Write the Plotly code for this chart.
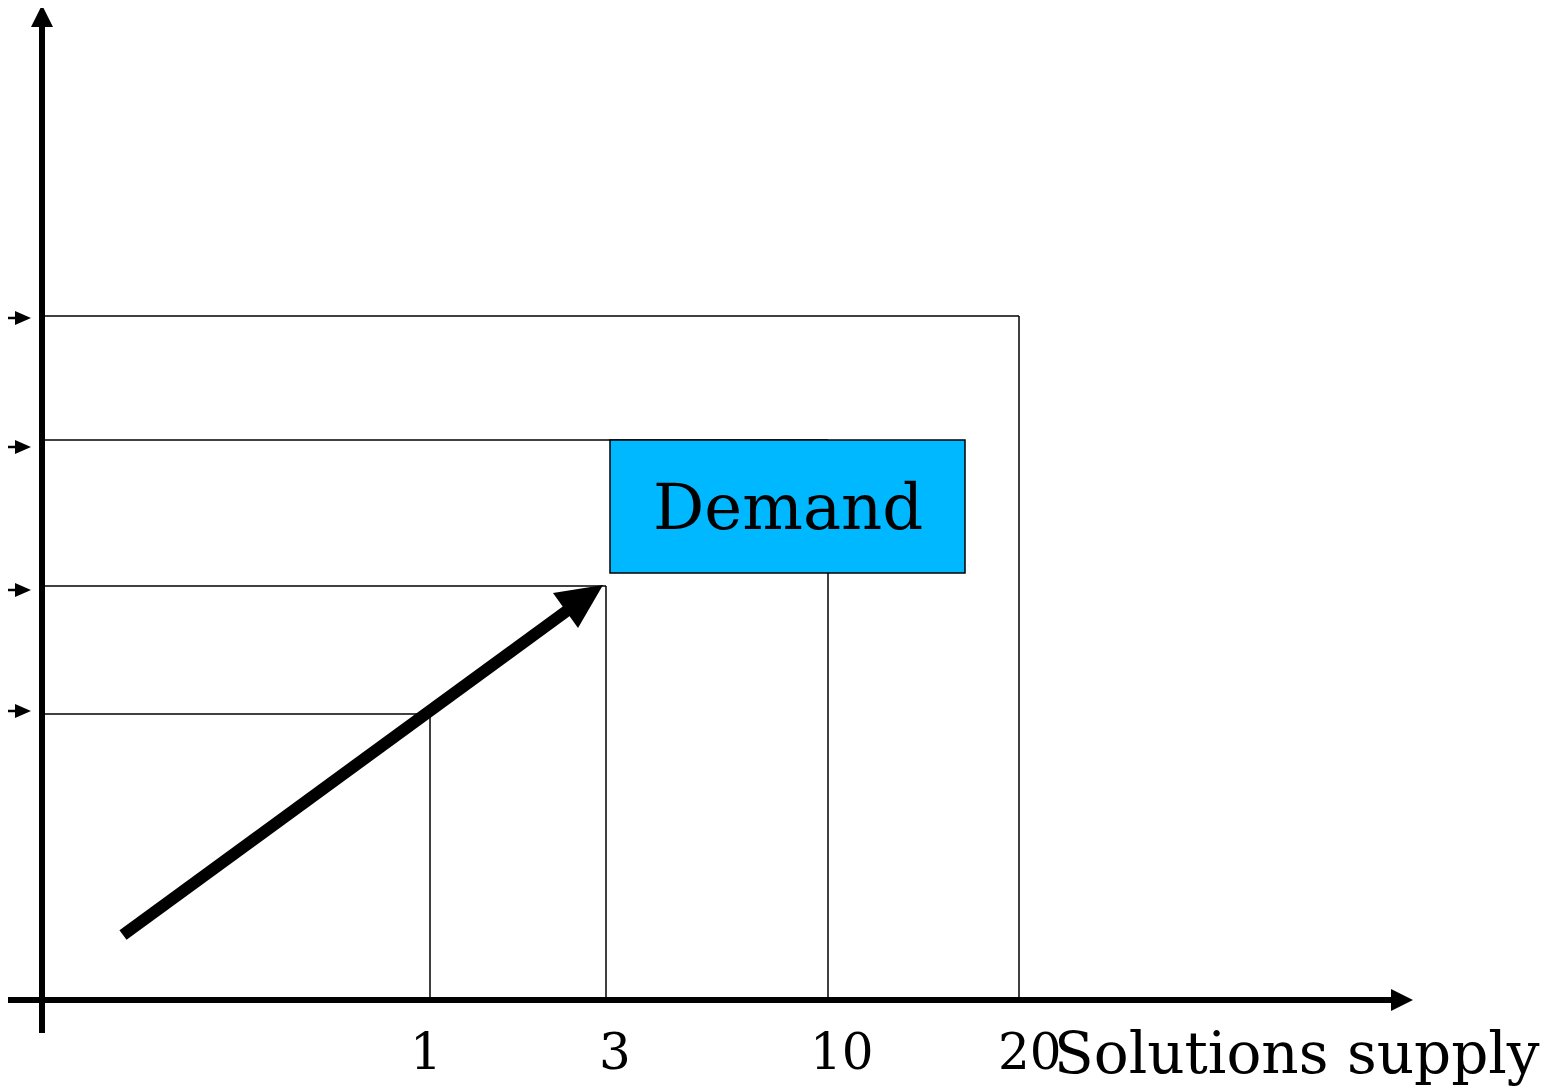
import plotly.graph_objects as go

# Diagram data (drawing units: page pixels)
supply_labels = ["1", "3", "10", "20"]
supply_x = [430, 606, 828, 1019]          # x position of each supply level
level_y = [714, 586, 440, 316]            # y position of each nested box top
marker_y = [711, 590, 447, 318]           # small arrow markers on left
label_x = [426, 615, 842, 1030]
origin_x, origin_y = 42, 1000
demand_box = dict(x0=610, x1=965, y0=440, y1=573)
trend_start = (123, 935)
trend_end = (603, 585)

W, H = 1557, 1087
OFF = 8  # page body margin
fig = go.Figure()
fig.add_trace(go.Scatter(x=[OFF, W], y=[OFF, H], mode="markers", marker=dict(opacity=0), hoverinfo="skip", showlegend=False))

shapes = []
thin = dict(color="black", width=1.5)
# nested boxes
for sx, ly in zip(supply_x, level_y):
    shapes.append(dict(type="line", x0=origin_x + 3, x1=sx, y0=ly, y1=ly, line=thin))
    shapes.append(dict(type="line", x0=sx, x1=sx, y0=ly, y1=origin_y, line=thin))

# demand box
shapes.append(dict(type="rect", **demand_box, fillcolor="rgb(0,184,255)", line=dict(color="black", width=1.5), layer="above"))

# axes
shapes.append(dict(type="line", x0=origin_x, x1=origin_x, y0=1033, y1=24, line=dict(color="black", width=6)))
shapes.append(dict(type="path", path=f"M {origin_x-11} 27 L {origin_x} 5 L {origin_x+11} 27 Z", fillcolor="black", line=dict(width=0)))
shapes.append(dict(type="line", x0=8, x1=1395, y0=origin_y, y1=origin_y, line=dict(color="black", width=6)))
shapes.append(dict(type="path", path=f"M 1391 {origin_y-11} L 1413 {origin_y} L 1391 {origin_y+11} Z", fillcolor="black", line=dict(width=0)))

# small marker arrows on left
for my in marker_y:
    shapes.append(dict(type="line", x0=0, x1=17, y0=my, y1=my, line=dict(color="black", width=2.5)))
    shapes.append(dict(type="path", path=f"M 15 {my-7} L 31 {my} L 15 {my+7} Z", fillcolor="black", line=dict(width=0)))

# trend arrow
sx0, sy0 = trend_start
ex, ey = trend_end
shapes.append(dict(type="line", x0=sx0, x1=568, y0=sy0, y1=610, line=dict(color="black", width=12)))
shapes.append(dict(type="path", path=f"M {ex} {ey} L 553 593 L 578 628 Z", fillcolor="black", line=dict(width=0)))

annotations = []
for lab, lx in zip(supply_labels, label_x):
    annotations.append(dict(x=lx, y=1052, text=lab, showarrow=False, xanchor="center", yanchor="middle",
                            font=dict(family="DejaVu Serif", size=50, color="black")))
annotations.append(dict(x=1052, y=1053, text="Solutions supply", showarrow=False, xanchor="left", yanchor="middle",
                        font=dict(family="DejaVu Serif", size=58, color="black")))
annotations.append(dict(x=(demand_box["x0"] + demand_box["x1"]) / 2, y=507, text="Demand", showarrow=False,
                        xanchor="center", yanchor="middle", font=dict(family="DejaVu Serif", size=64, color="black")))

fig.update_layout(
    width=W - OFF, height=H - OFF, margin=dict(l=0, r=0, t=0, b=0),
    paper_bgcolor="white", plot_bgcolor="white",
    xaxis=dict(range=[OFF, W], visible=False, fixedrange=True),
    yaxis=dict(range=[H, OFF], visible=False, fixedrange=True),
    shapes=shapes, annotations=annotations, showlegend=False,
)
fig.write_html("out.html")
